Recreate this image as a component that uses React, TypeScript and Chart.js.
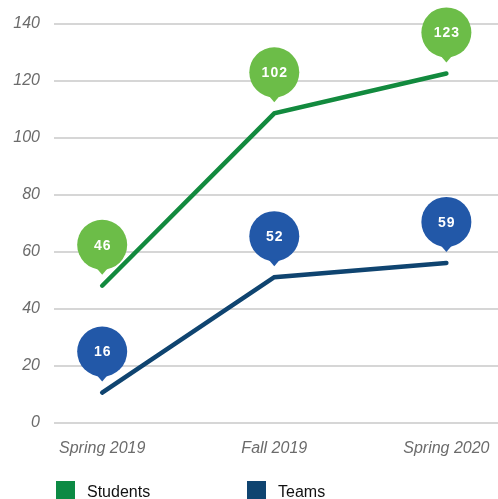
import React, { useEffect, useRef } from 'react';
import { Chart, registerables } from 'chart.js';

Chart.register(...registerables);

const categories = ['Spring 2019', 'Fall 2019', 'Spring 2020'];
const studentsValues = [48, 108.5, 122.5];
const teamsValues = [10.5, 51, 56];
const studentsLabels = ['46', '102', '123'];
const teamsLabels = ['16', '52', '59'];
const seriesNames = ['Students', 'Teams'];
const yTicks = [0, 20, 40, 60, 80, 100, 120, 140];

const FONT = '"Liberation Sans", Arial, Helvetica, sans-serif';

const bubblePlugin = {
  id: 'bubbles',
  afterDatasetsDraw(chart: any) {
    const ctx = chart.ctx;
    chart.data.datasets.forEach((ds: any, i: number) => {
      const meta = chart.getDatasetMeta(i);
      meta.data.forEach((pt: any, j: number) => {
        const cx = pt.x;
        const cy = pt.y - 41;
        ctx.save();
        ctx.fillStyle = ds.bubbleColor;
        ctx.beginPath();
        ctx.arc(cx, cy, 25, 0, Math.PI * 2);
        ctx.fill();
        ctx.beginPath();
        ctx.moveTo(cx - 6, cy + 23);
        ctx.lineTo(cx, cy + 30);
        ctx.lineTo(cx + 6, cy + 23);
        ctx.closePath();
        ctx.fill();
        ctx.fillStyle = '#ffffff';
        ctx.font = 'bold 14px ' + FONT;
        (ctx as any).letterSpacing = '1px';
        ctx.textAlign = 'center';
        ctx.textBaseline = 'middle';
        ctx.fillText(ds.bubbleLabels[j], cx + 0.5, cy + 1);
        ctx.restore();
      });
    });
  },
};

const legendPlugin = {
  id: 'customLegend',
  afterDraw(chart: any) {
    const ctx = chart.ctx;
    const items = [
      { x: 56, color: '#0c8a44', text: chart.data.datasets[0].label },
      { x: 247, color: '#0f4470', text: chart.data.datasets[1].label },
    ];
    ctx.save();
    items.forEach((it) => {
      ctx.fillStyle = it.color;
      ctx.fillRect(it.x, 481, 19, 19);
      ctx.fillStyle = '#111111';
      ctx.font = '16px ' + FONT;
      ctx.textAlign = 'left';
      ctx.textBaseline = 'alphabetic';
      ctx.fillText(it.text, it.x + 31, 497);
    });
    ctx.restore();
  },
};

export default function App() {
  const ref = useRef<HTMLCanvasElement>(null);

  useEffect(() => {
    document.body.style.margin = '0';
    const canvas = ref.current!;
    const chart = new Chart(canvas, {
      type: 'line',
      data: {
        datasets: [
          {
            label: seriesNames[0],
            data: studentsValues.map((v, i) => ({ x: i, y: v })),
            borderColor: '#128a3e',
            backgroundColor: '#128a3e',
            borderWidth: 4.5,
            borderCapStyle: 'round',
            borderJoinStyle: 'miter',
            pointRadius: 0,
            tension: 0,
            bubbleColor: '#6cbd48',
            bubbleLabels: studentsLabels,
          } as any,
          {
            label: seriesNames[1],
            data: teamsValues.map((v, i) => ({ x: i, y: v })),
            borderColor: '#0f4470',
            backgroundColor: '#0f4470',
            borderWidth: 4.5,
            borderCapStyle: 'round',
            borderJoinStyle: 'miter',
            pointRadius: 0,
            tension: 0,
            bubbleColor: '#2258a8',
            bubbleLabels: teamsLabels,
          } as any,
        ],
      },
      options: {
        responsive: false,
        animation: false,
        layout: { padding: { top: 21, left: 0, right: 0, bottom: 0 } },
        plugins: {
          legend: { display: false },
          tooltip: { enabled: false },
        },
        scales: {
          x: {
            type: 'linear',
            min: -0.28,
            max: 2.3,
            afterBuildTicks: (axis: any) => {
              axis.ticks = categories.map((_, i) => ({ value: i }));
            },
            afterFit: (axis: any) => {
              axis.height = 76.5;
              axis.paddingLeft = 0;
              axis.paddingRight = 0;
            },
            grid: { display: false, drawTicks: false },
            border: { display: false },
            ticks: {
              padding: 16,
              color: '#6b6b6b',
              font: { family: FONT, size: 16, style: 'italic' },
              maxRotation: 0,
              autoSkip: false,
              callback: (v: any) => categories[v as number] ?? '',
            },
          },
          y: {
            min: 0,
            max: 140,
            afterBuildTicks: (axis: any) => {
              axis.ticks = yTicks.map((v) => ({ value: v }));
            },
            afterFit: (axis: any) => {
              axis.width = 54;
            },
            grid: { color: '#d6d6d6', lineWidth: 2, drawTicks: false },
            border: { display: false },
            ticks: {
              padding: 14,
              color: '#6b6b6b',
              font: { family: FONT, size: 16, style: 'italic' },
            },
          },
        },
      },
      plugins: [bubblePlugin, legendPlugin],
    } as any);
    return () => chart.destroy();
  }, []);

  return (
    <div style={{ width: 498, height: 499 }}>
      <canvas ref={ref} width={498} height={499} style={{ display: 'block' }} />
    </div>
  );
}
